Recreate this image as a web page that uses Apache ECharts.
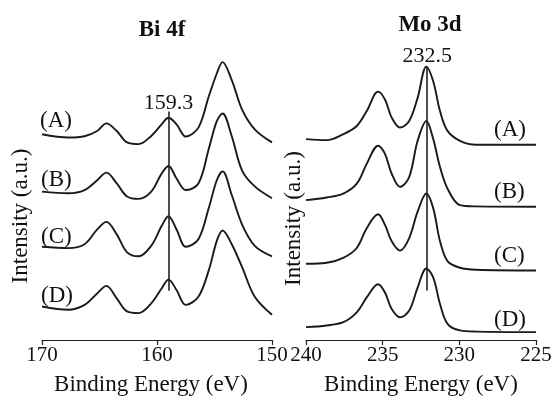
<!DOCTYPE html>
<html><head><meta charset="utf-8">
<script src="https://cdn.jsdelivr.net/npm/echarts@6/dist/echarts.min.js"></script>
<style>html,body{margin:0;padding:0;background:#fff}#c{width:555px;height:401px}</style>
</head><body><div id="c"></div>
<script>
// ---- data (binding energy in eV, intensity in arbitrary stacked units) ----
const panelTitles = ['Bi 4f', 'Mo 3d'];
const curveNames = ['(A)', '(B)', '(C)', '(D)'];
const xAxisName = 'Binding Energy (eV)';
const yAxisName = 'Intensity (a.u.)';

const biEnergy = [170, 167.7, 166.3, 165.2, 164.4, 163.5, 162.6, 161.6, 160.5, 159.6, 159.0, 158.3, 157.5, 156.4, 155.5, 154.8, 154.3, 153.5, 152.6, 151.5, 150];
const biA = [209, 205.7, 207, 212.3, 220, 212.3, 200.7, 199, 207.3, 219, 225.7, 219, 206.7, 215.7, 247.3, 270.7, 282.3, 264, 234, 214, 200.7];
const biB = [150.7, 149, 152.3, 162.3, 170, 159, 145.7, 143.3, 150.7, 169, 176.7, 164, 152.3, 159, 194, 222.3, 230, 207, 172, 156, 144];
const biC = [94.7, 93.3, 97.3, 112.3, 120, 107.3, 89, 85, 95.7, 115.7, 125.7, 112.3, 94.7, 102.3, 134, 162.3, 171.3, 147.3, 117.3, 95.7, 85];
const biD = [34, 30.7, 35.7, 47.3, 55, 42.3, 29, 27.3, 37.3, 52.3, 61.3, 50.7, 35.7, 44, 70.7, 100.7, 111.3, 97.3, 74, 44, 25.7];

const moEnergy = [240, 238.65, 237.57, 236.69, 236.04, 235.3, 234.85, 234.41, 233.87, 233.27, 232.72, 232.15, 231.7, 231.26, 230.77, 229.96, 228.9, 225];
const moA = [203, 202, 208, 216.3, 231.3, 251, 243, 224.7, 214.7, 221.3, 244.7, 276.3, 261.3, 231.3, 211.3, 201.3, 197.3, 197.3];
const moB = [141.3, 144, 148, 158, 178, 196.3, 188, 168, 154.7, 164.7, 201.3, 221.3, 203, 174.7, 153, 136.3, 135, 134.7];
const moC = [77, 78, 83, 93, 113, 127, 116.3, 99.7, 90.3, 103, 129.7, 148, 133, 99.7, 79.7, 73, 71, 70.3];
const moD = [13, 14.7, 18, 28, 43, 56.3, 48, 31.3, 23, 29.7, 53, 72.3, 63, 36.3, 16.3, 9.7, 8.5, 8];

const biPeak = { energy: 159.0, label: '159.3', from: 50, to: 232 };
const moPeak = { energy: 232.1, label: '232.5', from: 50, to: 276 };

// ---- build ----
const FONT = "'Liberation Serif', 'Times New Roman', serif";
const zip = (xs, ys) => xs.map((x, i) => [x, ys[i]]);

function spectrum(name, gridIdx, xs, ys, peak, labelDist) {
  const s = {
    name: name, type: 'line', xAxisIndex: gridIdx, yAxisIndex: gridIdx,
    data: zip(xs, ys), smooth: 0.35, symbol: 'none', clip: false,
    lineStyle: { color: '#1a1a1a', width: 1.9 }, silent: true
  };
  if (peak) {
    s.markLine = {
      silent: true, symbol: ['none', 'none'],
      lineStyle: { color: '#222', width: 1.6, type: 'solid' },
      label: { show: true, position: 'end', formatter: peak.label, distance: labelDist,
               fontFamily: FONT, fontSize: 22, color: '#111' },
      data: [[{ coord: [peak.energy, peak.from] }, { coord: [peak.energy, peak.to] }]]
    };
  }
  return s;
}

function xAxis(gridIdx, min, max, interval, shift) {
  return {
    gridIndex: gridIdx, type: 'value', min: min, max: max, interval: interval, inverse: true,
    name: xAxisName, nameLocation: 'middle', nameGap: 33,
    nameTextStyle: { fontFamily: FONT, fontSize: 23, color: '#111', padding: [0, shift, 0, 0] },
    axisLine: { lineStyle: { color: '#222', width: 1.2 } },
    axisTick: { show: true, length: 5, lineStyle: { color: '#222', width: 1.2 } },
    axisLabel: { fontFamily: FONT, fontSize: 21, color: '#111', margin: 5 },
    splitLine: { show: false }
  };
}
function yAxis(gridIdx, max, gap, shift) {
  return {
    gridIndex: gridIdx, type: 'value', min: 0, max: max,
    name: yAxisName, nameLocation: 'middle', nameGap: gap,
    nameTextStyle: { fontFamily: FONT, fontSize: 23, color: '#111', padding: [0, shift, 0, 0] },
    axisLine: { show: false }, axisTick: { show: false }, axisLabel: { show: false },
    splitLine: { show: false }
  };
}

const labelText = (t, x, y) => ({
  type: 'text', left: x, top: y,
  style: { text: t, fontFamily: FONT, fontSize: 23, fill: '#111' }
});

const option = {
  backgroundColor: '#fff',
  animation: false,
  title: [
    { text: panelTitles[0], left: 157, top: 14, textAlign: 'center',
      textStyle: { fontFamily: FONT, fontSize: 23, fontWeight: 'bold', color: '#111' } },
    { text: panelTitles[1], left: 425, top: 9, textAlign: 'center',
      textStyle: { fontFamily: FONT, fontSize: 23, fontWeight: 'bold', color: '#111' } }
  ],
  grid: [
    { left: 42, right: 283, top: 86, bottom: 57 },
    { left: 306, right: 19, top: 55, bottom: 58 }
  ],
  xAxis: [xAxis(0, 150, 170, 10, 12), xAxis(1, 225, 240, 5, 0)],
  yAxis: [yAxis(0, 258, 10, 6), yAxis(1, 288, 1, 42)],
  series: [
    spectrum(curveNames[0], 0, biEnergy, biA, biPeak, -3),
    spectrum(curveNames[1], 0, biEnergy, biB),
    spectrum(curveNames[2], 0, biEnergy, biC),
    spectrum(curveNames[3], 0, biEnergy, biD),
    spectrum(curveNames[0], 1, moEnergy, moA, moPeak, 0),
    spectrum(curveNames[1], 1, moEnergy, moB),
    spectrum(curveNames[2], 1, moEnergy, moC),
    spectrum(curveNames[3], 1, moEnergy, moD)
  ],
  graphic: [
    labelText(curveNames[0], 40, 109),
    labelText(curveNames[1], 41, 168),
    labelText(curveNames[2], 41, 225),
    labelText(curveNames[3], 41, 284),
    labelText(curveNames[0], 494, 118),
    labelText(curveNames[1], 494, 180),
    labelText(curveNames[2], 494, 244),
    labelText(curveNames[3], 494, 308)
  ]
};
echarts.init(document.getElementById('c'), null, { renderer: 'canvas' }).setOption(option);
</script>
</body></html>
